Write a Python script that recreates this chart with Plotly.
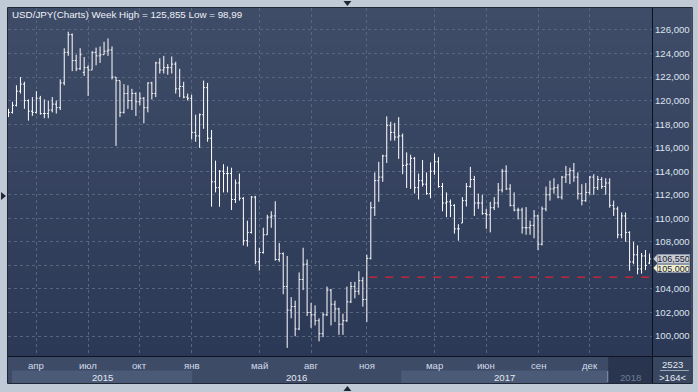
import plotly.graph_objects as go
import pandas as pd

# ---------------- data (weekly USD/JPY bars) ----------------
week_start = pd.date_range("2015-02-16", periods=162, freq="W-MON")

opens = [118.9,119.0,119.6,120.8,121.4,120.0,119.1,119.0,120.2,118.9,
         118.9,119.2,119.7,119.4,121.5,124.1,125.6,123.4,122.7,122.4,
         122.8,122.6,124.1,123.8,123.9,124.2,124.3,122.0,121.7,119.0,
         120.6,120.0,120.6,119.9,120.2,119.4,121.5,120.6,123.2,122.6,
         122.8,122.8,123.1,121.0,121.2,120.3,120.2,117.3,117.0,118.8,
         121.1,116.8,113.1,112.6,114.0,113.8,113.8,111.6,113.0,111.7,
         108.1,108.8,111.8,106.3,107.1,108.6,110.1,110.2,106.5,107.0,
         104.2,102.2,102.5,100.6,104.8,106.1,102.0,101.8,101.3,100.2,
         101.8,103.9,102.7,102.3,101.0,101.3,102.9,104.2,103.8,104.7,
         103.1,106.6,110.9,113.2,113.5,115.3,117.9,117.3,116.9,117.0,
         114.5,114.6,115.1,112.6,113.2,112.9,112.1,114.0,114.8,112.7,
         111.3,111.4,111.1,109.1,109.6,111.5,112.7,113.3,111.3,111.3,
         110.4,110.3,110.9,111.3,112.4,114.0,112.5,111.1,110.7,110.7,
         109.2,109.2,109.4,110.2,107.8,110.8,112.0,112.5,112.6,111.8,
         113.5,113.7,114.05,113.5,112.1,111.5,112.2,113.5,112.6,113.3,
         112.7,113.0,111.1,110.8,108.6,110.2,108.8,106.3,106.9,105.7,
         106.8,106.2]

highs = [119.3,119.9,121.3,122.0,121.6,120.1,120.3,120.8,120.4,120.1,
         120.0,120.3,120.0,121.8,124.45,125.855,125.7,123.9,124.45,123.7,
         123.0,124.2,124.5,124.6,125.0,125.28,124.6,122.0,121.7,121.4,
         121.3,121.0,120.7,120.7,120.3,121.55,121.6,123.3,123.6,123.8,
         123.1,123.75,123.3,122.7,121.6,120.6,120.5,118.8,118.9,121.7,
         121.5,117.5,114.9,114.1,114.6,114.4,114.3,113.3,113.8,111.8,
         109.8,111.9,111.9,107.5,109.2,110.3,110.6,111.45,107.9,107.1,
         106.8,103.3,103.0,105.4,107.5,106.5,102.8,102.6,101.5,102.0,
         104.2,104.0,103.0,102.4,101.9,104.2,104.6,104.6,105.5,105.0,
         106.9,111.4,113.9,114.8,115.4,118.66,118.2,118.1,118.6,117.2,
         115.6,115.4,115.2,113.8,114.95,113.9,114.75,115.5,115.2,113.0,
         112.2,111.6,111.2,109.5,111.8,113.0,114.37,113.6,112.1,112.0,
         110.8,111.4,111.8,113.0,114.2,114.5,112.9,112.2,110.9,110.9,
         110.95,109.8,110.7,110.3,111.0,112.7,113.2,113.4,112.9,113.6,
         114.45,114.3,114.7,113.9,112.9,113.0,113.6,113.75,113.6,113.5,
         113.4,113.4,111.5,111.0,110.5,110.5,108.9,108.0,107.7,107.05,
         107.3,107.0]

lows = [118.6,118.9,119.5,120.6,119.3,118.3,118.7,118.9,118.8,118.5,
        118.5,119.0,118.9,119.2,121.3,123.8,122.5,122.5,122.6,122.1,
        120.4,122.6,123.0,123.2,123.9,123.8,121.8,116.15,118.6,118.9,
        119.3,119.2,118.7,119.6,118.07,119.0,120.1,120.3,122.3,122.3,
        122.2,122.3,120.6,120.3,120.2,120.0,116.7,116.5,115.98,117.6,
        116.5,110.99,112.2,110.98,112.2,112.2,110.7,111.3,111.5,107.7,
        107.6,108.7,106.1,105.55,107.0,108.6,109.2,106.4,106.3,103.55,
        98.99,101.5,99.98,100.5,103.9,101.7,100.7,100.9,99.55,99.9,
        101.7,100.9,101.2,100.1,100.1,101.2,102.8,103.2,103.5,102.5,
        101.2,106.5,110.2,111.4,113.1,114.7,116.6,116.6,115.05,113.75,
        112.57,112.5,112.1,111.6,112.7,112.0,111.7,113.7,112.6,110.6,
        110.1,110.1,108.7,108.1,109.6,111.0,112.6,110.2,110.8,110.3,
        109.1,108.8,110.7,110.9,112.2,112.4,111.0,110.6,109.9,108.7,
        108.6,108.6,108.3,107.3,107.7,110.6,111.5,112.1,111.7,111.6,
        113.0,112.9,113.1,111.6,111.1,111.4,112.0,112.0,112.4,112.5,
        112.0,110.9,110.2,108.3,108.3,108.0,105.55,106.1,105.24,105.3,
        105.6,106.1]

closes = [119.0,119.6,120.8,121.4,120.0,119.1,119.0,120.2,118.9,118.9,
          119.2,119.7,119.4,121.5,124.1,125.6,123.4,122.7,123.9,122.8,
          122.6,124.1,123.8,123.9,124.2,124.3,122.0,121.7,119.0,120.6,
          120.0,120.6,119.9,120.2,119.4,121.5,120.6,123.2,122.6,122.8,
          122.8,123.1,121.0,121.2,120.3,120.2,117.3,117.0,118.8,121.1,
          116.8,113.1,112.6,114.0,113.8,113.8,111.6,113.0,111.7,108.1,
          108.8,111.8,106.3,107.1,108.6,110.1,110.2,106.5,107.0,104.2,
          102.2,102.5,100.6,104.8,106.1,102.0,101.8,101.3,100.2,101.8,
          103.9,102.7,102.3,101.0,101.3,102.9,104.2,103.8,104.7,103.1,
          106.6,110.9,113.2,113.5,115.3,117.9,117.3,116.9,117.0,114.5,
          114.6,115.1,112.6,113.2,112.9,112.1,114.0,114.8,112.7,111.3,
          111.4,111.1,109.1,109.1,111.5,112.7,113.3,111.3,111.3,110.4,
          110.3,110.9,111.3,112.4,114.0,112.5,111.1,110.7,110.7,109.2,
          109.2,109.4,110.2,107.8,110.8,112.0,112.5,112.6,111.8,113.5,
          113.7,114.05,113.5,112.1,111.5,112.2,113.5,112.6,113.3,112.7,
          113.0,111.1,110.8,108.6,110.2,108.8,106.3,106.9,105.7,106.8,
          106.0,106.55]

month_labels = ["апр", "июл", "окт", "янв", "май", "авг", "ноя", "мар", "июн", "сен", "дек"]
month_keys = [(2015, 4), (2015, 7), (2015, 10), (2016, 1), (2016, 5), (2016, 8),
              (2016, 11), (2017, 3), (2017, 6), (2017, 9), (2017, 12)]
year_labels = ["2015", "2016", "2017", "2018"]
y_ticks = list(range(100, 127, 2))
y_ticktext = ["" if v == 106 else f"{v:.3f}".replace(".", ",") for v in y_ticks]
title_text = "USD/JPY(Charts) Week High = 125,855 Low = 98,99"
last_price = 106.55
level_price = 105.0

# ---------------- helpers ----------------
W, H = 698, 392
L_M, R_M, T_M, B_M = 8, 43, 8, 36
PW, PH = W - L_M - R_M, H - T_M - B_M
X0 = -0.125
X1 = X0 + PW / 4.0
Y_LO = 100 + (336 - 356) / 11.77
Y_HI = 100 + (336 - 8) / 11.77


def px(xp):
    return (xp - L_M) / PW


def py(yp):
    return (H - B_M - yp) / PH


idx = list(range(len(week_start)))
month_idx = []
for (yy, mm) in month_keys:
    for i, d in enumerate(week_start):
        if d.year == yy and d.month == mm:
            month_idx.append(i)
            break

fig = go.Figure()
fig.add_trace(go.Ohlc(
    x=idx, open=opens, high=highs, low=lows, close=closes,
    increasing=dict(line=dict(color="#ffffff", width=1)),
    decreasing=dict(line=dict(color="#ffffff", width=1)),
    tickwidth=0.35, hoverinfo="skip", showlegend=False,
))

shapes = []
top_c = (63, 76, 104)
bot_c = (44, 57, 86)
n = 29
for k in range(n):
    t = k / (n - 1)
    c = tuple(int(round(top_c[j] + (bot_c[j] - top_c[j]) * t)) for j in range(3))
    y0p = 8 + k * (348 / n)
    y1p = 8 + (k + 1) * (348 / n) + 0.5
    shapes.append(dict(type="rect", xref="paper", yref="paper", layer="below",
                       x0=px(8), x1=px(695), y0=py(y1p), y1=py(y0p),
                       fillcolor="rgb(%d,%d,%d)" % c, line=dict(width=0)))
shapes.append(dict(type="rect", xref="paper", yref="paper", layer="below",
                   x0=px(8), x1=px(695), y0=py(383), y1=py(356),
                   fillcolor="#3d4b67", line=dict(width=0)))
for (a, b) in [(12, 193), (403, 610)]:
    shapes.append(dict(type="rect", xref="paper", yref="paper", layer="below",
                       x0=px(a), x1=px(b), y0=py(383), y1=py(370.5),
                       fillcolor="#4b5a76", line=dict(width=0)))
shapes.append(dict(type="rect", xref="paper", yref="paper", layer="below",
                   x0=px(611), x1=px(655), y0=py(383), y1=py(357),
                   fillcolor="#29354f", line=dict(width=0)))
shapes.append(dict(type="rect", xref="paper", yref="paper", layer="below",
                   x0=px(656), x1=px(695), y0=py(383), y1=py(357),
                   fillcolor="#38465f", line=dict(width=0)))
shapes.append(dict(type="line", xref="paper", yref="paper", layer="above",
                   x0=px(610.5), x1=px(610.5), y0=py(382), y1=py(371),
                   line=dict(color="#8a95a8", width=1)))
shapes.append(dict(type="line", xref="paper", yref="paper", layer="above",
                   x0=px(663), x1=px(692), y0=py(370.5), y1=py(370.5),
                   line=dict(color="#9aa5b6", width=1)))
shapes.append(dict(type="line", xref="paper", yref="paper", layer="above",
                   x0=px(8), x1=px(695), y0=py(356.5), y1=py(356.5),
                   line=dict(color="#0d1320", width=1)))
shapes.append(dict(type="line", xref="paper", yref="paper", layer="above",
                   x0=px(655.5), x1=px(655.5), y0=py(383), y1=py(8),
                   line=dict(color="#0d1320", width=1)))
shapes.append(dict(type="rect", xref="paper", yref="paper", layer="above",
                   x0=px(7.5), x1=px(695.5), y0=py(383.5), y1=py(7.5),
                   line=dict(color="#1f2737", width=1)))
shapes.append(dict(type="line", xref="x", yref="y", layer="above",
                   x0=90.6, x1=X1, y0=level_price, y1=level_price,
                   line=dict(color="#bb2a36", width=1.5, dash="8px,8px")))
for (yc, col) in [(258.8, "#c6cbd4"), (268.0, "#eeeecd")]:
    shapes.append(dict(type="path", xref="paper", yref="paper", layer="above",
                       path="M %f %f L %f %f L %f %f Z" % (
                           px(656.3), py(yc), px(660.5), py(yc - 4.5), px(660.5), py(yc + 4.5)),
                       fillcolor=col, line=dict(width=0)))
for path in [((345, 1), (353, 1), (349, 6)),
             ((1, 192), (1, 200), (6, 196)),
             ((345, 391), (353, 391), (349, 386))]:
    p = "M %f %f L %f %f L %f %f Z" % (px(path[0][0]), py(path[0][1]),
                                       px(path[1][0]), py(path[1][1]),
                                       px(path[2][0]), py(path[2][1]))
    shapes.append(dict(type="path", xref="paper", yref="paper", layer="above",
                       path=p, fillcolor="#1e2533", line=dict(width=0)))

FONT = "Liberation Sans, Arial, sans-serif"
ann = []
ann.append(dict(text=title_text, xref="paper", yref="paper", x=px(10), y=py(15),
                xanchor="left", yanchor="middle", showarrow=False,
                font=dict(family=FONT, size=9.8, color="#eef1f6")))
for lab, i in zip(month_labels, month_idx):
    ann.append(dict(text=lab, xref="x", yref="paper", x=i, y=py(365.5),
                    xanchor="center", yanchor="middle", showarrow=False,
                    font=dict(family=FONT, size=9.6, color="#d3dbe9")))
year_pos = [102.5, 298, 506.5, 633.5]
year_col = ["#e4e9f2", "#e4e9f2", "#e4e9f2", "#6f7c94"]
for lab, xp, c in zip(year_labels, year_pos, year_col):
    ann.append(dict(text=lab, xref="paper", yref="paper", x=px(xp), y=py(377),
                    xanchor="center", yanchor="middle", showarrow=False,
                    font=dict(family=FONT, size=9.6, color=c)))
ann.append(dict(text="2523", xref="paper", yref="paper", x=px(676), y=py(364),
                xanchor="center", yanchor="middle", showarrow=False,
                font=dict(family=FONT, size=9.6, color="#e4e9f2")))
ann.append(dict(text="&gt;164&lt;", xref="paper", yref="paper", x=px(676), y=py(377.5),
                xanchor="center", yanchor="middle", showarrow=False,
                font=dict(family=FONT, size=9.6, color="#e4e9f2")))
ann.append(dict(text=f"{last_price:.3f}".replace(".", ","), xref="paper", yref="y",
                x=px(660), y=last_price, xanchor="left", yanchor="middle",
                showarrow=False, bgcolor="#c6cbd4", bordercolor="#8d97a8",
                borderwidth=1, borderpad=0, width=31, height=8,
                font=dict(family=FONT, size=9, color="#1a2233")))
ann.append(dict(text=f"{level_price:.3f}".replace(".", ","), xref="paper", yref="paper",
                x=px(660), y=py(268), xanchor="left", yanchor="middle",
                showarrow=False, bgcolor="#eeeecd", bordercolor="#8d97a8",
                borderwidth=1, borderpad=0, width=31, height=7,
                font=dict(family=FONT, size=9, color="#1a2233")))

fig.update_layout(
    width=W, height=H,
    margin=dict(l=L_M, r=R_M, t=T_M, b=B_M, pad=0),
    paper_bgcolor="#c0cad6",
    plot_bgcolor="rgba(0,0,0,0)",
    showlegend=False,
    hovermode=False,
    shapes=shapes,
    annotations=ann,
    xaxis=dict(range=[X0, X1], tickvals=month_idx, showticklabels=False,
               showgrid=True, gridcolor="#57657f", griddash="3px,3px", gridwidth=1,
               zeroline=False, showline=False, ticks="", fixedrange=True,
               rangeslider=dict(visible=False)),
    yaxis=dict(range=[Y_LO, Y_HI], side="right", tickvals=y_ticks,
               ticktext=y_ticktext, showgrid=True, gridcolor="#57657f",
               griddash="3px,3px", gridwidth=1, zeroline=False, showline=False,
               ticks="", ticklabelstandoff=2, fixedrange=True,
               tickfont=dict(family=FONT, size=9.6, color="#dde3ee")),
)

fig.write_html("out.html",
               config={"displayModeBar": False, "staticPlot": True},
               post_script="document.body.style.margin='0';document.body.style.overflow='hidden';")
